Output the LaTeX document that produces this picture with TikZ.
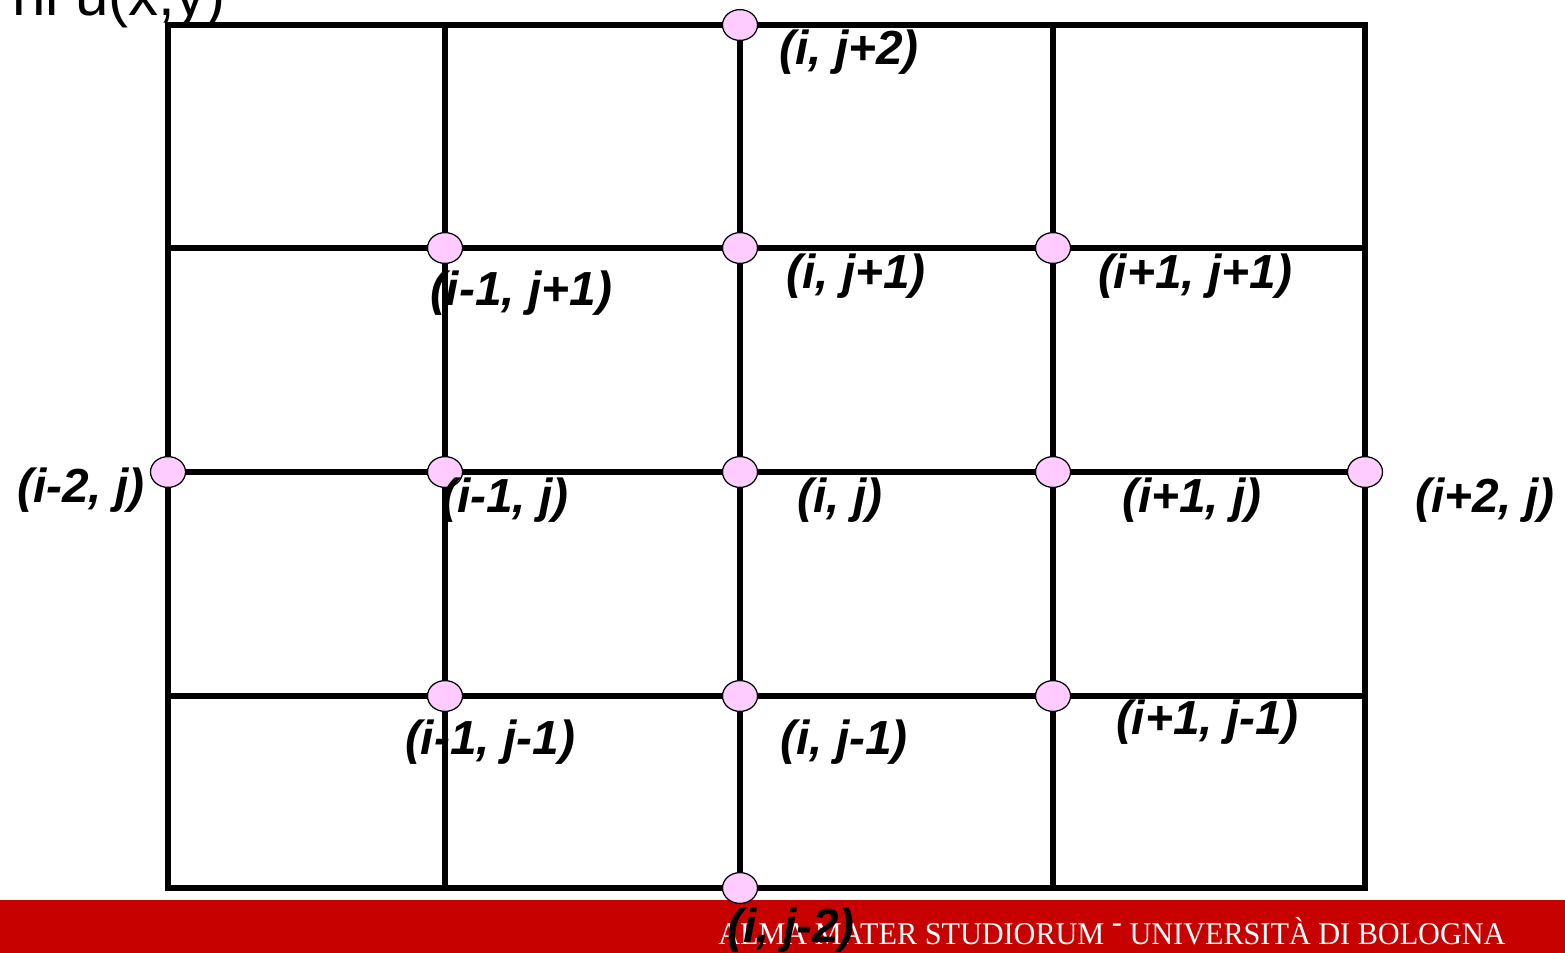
\documentclass[tikz,border=0pt]{standalone}
\usepackage{fontspec}
\setmainfont{Liberation Sans}
\newfontfamily\footerfont{Liberation Serif}
\usetikzlibrary{shapes.geometric}
\definecolor{ptpink}{HTML}{FFCCFF}
\definecolor{unibored}{HTML}{C70000}

\begin{document}
\begin{tikzpicture}[x=0.025cm,y=-0.025cm,
  gridline/.style={line width=3.6pt},
  pt/.style={draw,ellipse,fill=ptpink,line width=0.9pt,minimum width=0.875cm,minimum height=0.77cm,inner sep=0pt},
  lab/.style={font=\fontsize{34}{40}\selectfont\bfseries\itshape,inner sep=0pt},
  title/.style={font=\fontsize{42.7}{48}\selectfont,inner sep=0pt,anchor=base east}]
\useasboundingbox (0,0) rectangle (1565,953);
% ---------- footer bar ----------
\fill[unibored] (0,900) rectangle (1565,953);
\node[anchor=base west,inner sep=0pt,text=white,font=\footerfont\fontsize{22.5}{26}\selectfont] (footer) at (718,944)
  {\scalebox{0.955}[1]{ALMA MATER STUDIORUM \raisebox{0.8ex}{-} UNIVERSITÀ DI BOLOGNA}};
% ---------- heading, cut off at the top ----------
\node[title] (head) at (226,16) {ni u(x,y)};
% ---------- grid ----------
\draw[gridline] (168,25) rectangle (1365,888);
\foreach \gx in {445,740,1053} \draw[gridline] (\gx,25) -- (\gx,888);
\foreach \gy in {248,472,696} \draw[gridline] (168,\gy) -- (1365,\gy);
% ---------- grid points ----------
\node[pt] (p02) at (740,25) {};
\node[pt] (pm11) at (445,248) {};
\node[pt] (p01) at (740,248) {};
\node[pt] (pp11) at (1053,248) {};
\node[pt] (pm20) at (168,472) {};
\node[pt] (pm10) at (445,472) {};
\node[pt] (p00) at (740,472) {};
\node[pt] (pp10) at (1053,472) {};
\node[pt] (pp20) at (1365,472) {};
\node[pt] (pm1m1) at (445,696) {};
\node[pt] (p0m1) at (740,696) {};
\node[pt] (pp1m1) at (1053,696) {};
\node[pt] (p0m2) at (740,888) {};
% ---------- labels ----------
\node[lab] (l02) at (849,52) {(i, j+2)};
\node[lab] (lm11) at (521,293) {(i-1, j+1)};
\node[lab] (l01) at (856,276) {(i, j+1)};
\node[lab] (lp11) at (1195,276) {(i+1, j+1)};
\node[lab] (lm20) at (81,490) {(i-2, j)};
\node[lab] (lm10) at (505,500) {(i-1, j)};
\node[lab] (l00) at (840,500) {(i, j)};
\node[lab] (lp10) at (1192,500) {(i+1, j)};
\node[lab] (lp20) at (1485,500) {(i+2, j)};
\node[lab] (lm1m1) at (490,742) {(i-1, j-1)};
\node[lab] (l0m1) at (844,742) {(i, j-1)};
\node[lab] (lp1m1) at (1207,722) {(i+1, j-1)};
\node[lab] (l0m2) at (791,930) {(i, j-2)};
\end{tikzpicture}
\end{document}
